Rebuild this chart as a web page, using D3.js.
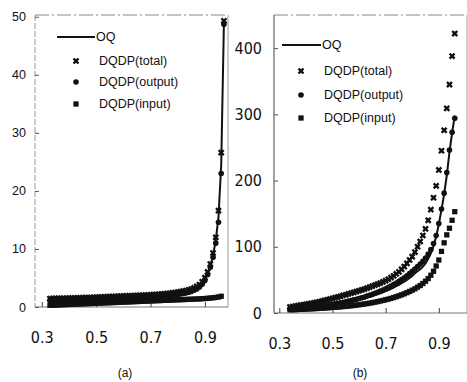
<!DOCTYPE html>
<html><head><meta charset="utf-8">
<script src="https://cdn.jsdelivr.net/npm/d3@7"></script>
<style>body{margin:0;background:#fff}svg{display:block}</style></head>
<body><svg id="c" width="467" height="382"></svg>
<script>
// ---------- data : panel (a) ----------
const xA = [0.33,0.34,0.35,0.36,0.37,0.38,0.39,0.40,0.41,0.42,
            0.43,0.44,0.45,0.46,0.47,0.48,0.49,0.50,0.51,0.52,
            0.53,0.54,0.55,0.56,0.57,0.58,0.59,0.60,0.61,0.62,
            0.63,0.64,0.65,0.66,0.67,0.68,0.69,0.70,0.71,0.72,
            0.73,0.74,0.75,0.76,0.77,0.78,0.79,0.80,0.81,0.82,
            0.83,0.84,0.85,0.86,0.87,0.88,0.89,0.90,0.91,0.92,
            0.93,0.94,0.95,0.96,0.97];
const oqA = [1.25,1.26,1.27,1.28,1.29,1.30,1.31,1.32,1.33,1.34,
             1.36,1.37,1.39,1.40,1.42,1.43,1.45,1.47,1.49,1.51,
             1.53,1.55,1.57,1.59,1.61,1.63,1.65,1.67,1.69,1.71,
             1.73,1.75,1.77,1.79,1.81,1.83,1.85,1.88,1.91,1.94,
             1.97,2.00,2.04,2.08,2.13,2.18,2.24,2.31,2.39,2.48,
             2.58,2.70,2.85,3.05,3.30,3.62,4.10,4.80,5.80,7.10,
             8.90,11.5,15.5,24.5,49.0];
const totalA = [1.45,1.46,1.47,1.48,1.49,1.50,1.51,1.52,1.53,1.55,
                1.56,1.58,1.59,1.61,1.62,1.64,1.66,1.68,1.70,1.72,
                1.74,1.76,1.78,1.80,1.82,1.84,1.86,1.88,1.90,1.92,
                1.94,1.96,1.98,2.00,2.02,2.04,2.06,2.09,2.12,2.15,
                2.19,2.23,2.27,2.32,2.37,2.43,2.49,2.56,2.64,2.73,
                2.83,2.95,3.10,3.30,3.55,3.88,4.35,5.05,6.05,7.40,
                9.30,12.0,16.6,26.6,49.3];
const outputA = [1.10,1.11,1.12,1.13,1.14,1.15,1.16,1.17,1.18,1.19,
                 1.20,1.22,1.23,1.25,1.26,1.28,1.30,1.32,1.33,1.35,
                 1.37,1.39,1.41,1.43,1.45,1.47,1.49,1.51,1.53,1.55,
                 1.57,1.59,1.61,1.63,1.65,1.67,1.69,1.72,1.75,1.78,
                 1.81,1.84,1.88,1.92,1.97,2.02,2.08,2.15,2.23,2.32,
                 2.42,2.54,2.69,2.88,3.12,3.44,3.90,4.58,5.55,6.85,
                 8.55,11.0,14.6,23.0,48.7];
const inputA = [0.30,0.32,0.34,0.36,0.38,0.40,0.42,0.44,0.46,0.48,
                0.50,0.52,0.54,0.56,0.58,0.60,0.62,0.64,0.66,0.68,
                0.70,0.72,0.74,0.76,0.78,0.80,0.82,0.84,0.86,0.88,
                0.90,0.92,0.94,0.96,0.98,1.00,1.02,1.04,1.06,1.08,
                1.10,1.12,1.14,1.16,1.18,1.20,1.22,1.24,1.26,1.28,
                1.30,1.32,1.34,1.36,1.38,1.40,1.43,1.46,1.50,1.54,
                1.59,1.65,1.72,1.85];
const yTicksA = [0,10,20,30,40,50];

// ---------- data : panel (b) ----------
const xB = [0.34,0.35,0.36,0.37,0.38,0.39,0.40,0.41,0.42,0.43,
            0.44,0.45,0.46,0.47,0.48,0.49,0.50,0.51,0.52,0.53,
            0.54,0.55,0.56,0.57,0.58,0.59,0.60,0.61,0.62,0.63,
            0.64,0.65,0.66,0.67,0.68,0.69,0.70,0.71,0.72,0.73,
            0.74,0.75,0.76,0.77,0.78,0.79,0.80,0.81,0.82,0.83,
            0.84,0.85,0.86,0.87,0.88,0.89,0.90,0.91,0.92,0.93,
            0.94,0.95,0.96];
const oqB = [6.0,6.2,6.4,6.6,6.9,7.2,7.5,7.8,8.1,8.5,
             8.9,9.3,9.7,10.2,10.7,11.2,11.8,12.4,13.0,13.7,
             14.4,15.2,16.0,16.9,17.8,18.8,19.8,20.9,22.0,23.2,
             24.4,25.7,27.0,28.4,29.9,31.4,33.0,34.7,36.5,38.5,
             40.5,42.5,45.0,47.5,50.0,53.0,56.0,60.0,63.0,66.0,
             70,75,82,90,101,115,134,156,179,208,
             243,272,298];
const totalB = [9.0,9.7,10.4,11.1,11.8,12.5,13.2,13.9,14.6,15.3,
                16.0,17.0,18.0,19.0,20.0,21.0,22.0,23.1,24.2,25.3,
                26.5,27.6,28.8,30.0,31.2,32.4,33.6,34.8,36.0,37.5,
                39.0,40.5,42.0,43.5,45.0,47.0,49.0,51.0,53.5,56.0,
                59,62,66,70,75,80,85,92,100,108,
                117,127,140,156,174,192,216,245,276,309,
                345,388,422];
const outputB = [6.5,6.8,7.1,7.4,7.7,8.0,8.4,8.8,9.2,9.6,
                 10.0,10.5,11.0,11.5,12.1,12.7,13.3,14.0,14.7,15.4,
                 16.2,17.0,17.9,18.8,19.8,20.8,21.9,23.0,24.2,25.5,
                 26.8,28.2,29.7,31.3,33.0,34.8,36.7,38.7,40.8,43.0,
                 45.3,47.8,50.5,53.3,56.3,59.5,63.0,66.5,70.0,74.0,
                 78,83,89,96,105,117,135,157,181,212,
                 246,273,294];
const inputB = [4.8,5.0,5.1,5.3,5.5,5.7,5.9,6.1,6.3,6.5,
                6.7,7.0,7.2,7.5,7.8,8.1,8.4,8.7,9.0,9.3,
                9.7,10.1,10.5,10.9,11.4,11.9,12.4,13.0,13.6,14.2,
                14.9,15.6,16.4,17.2,18.1,19.0,20.0,21.0,22.1,23.3,
                24.6,26.0,27.4,29.0,30.7,32.5,34.5,36.5,39.0,41.5,
                44.5,48,52,57,63,71,80,93,106,118,
                128,140,153];
const yTicksB = [0,100,200,300,400];

const xTicks = [0.3,0.5,0.7,0.9];
const xTickLabels = ["0.3","0.5","0.7","0.9"];
const legendNames = ["OQ","DQDP(total)","DQDP(output)","DQDP(input)"];
const panelLabels = ["(a)","(b)"];

// ---------- drawing ----------
const svg = d3.select("#c");
const INK = "#111";
const narrow = "'Liberation Sans Narrow','DejaVu Sans Condensed','Liberation Sans',Arial,sans-serif";
const regular = "'Liberation Sans',Arial,sans-serif";

const symTotal = d3.symbol().type(d3.symbolCross).size(28);
const symInput = d3.symbol().type(d3.symbolSquare).size(28);

function drawMarkers(g, type, pts) {
  if (type === "total") {
    g.selectAll(null).data(pts).join("path")
      .attr("d", symTotal())
      .attr("transform", d => `translate(${d[0]},${d[1]}) rotate(45)`)
      .attr("fill", INK);
  } else if (type === "output") {
    g.selectAll(null).data(pts).join("circle")
      .attr("cx", d => d[0]).attr("cy", d => d[1]).attr("r", 2.8)
      .attr("fill", INK);
  } else {
    g.selectAll(null).data(pts).join("path")
      .attr("d", symInput())
      .attr("transform", d => `translate(${d[0]},${d[1]})`)
      .attr("fill", INK);
  }
}

function panel(cfg) {
  const x = d3.scaleLinear().domain(cfg.xDom).range([cfg.left, cfg.right]);
  const y = d3.scaleLinear().domain(cfg.yDom).range([cfg.bottom, cfg.top]);
  const g = svg.append("g");

  // frame
  g.append("line").attr("x1", cfg.left).attr("x2", cfg.right).attr("y1", cfg.top).attr("y2", cfg.top)
    .attr("stroke", "#888").attr("stroke-width", 1).attr("stroke-dasharray", "14,3,2,3");
  g.append("line").attr("x1", cfg.right).attr("x2", cfg.right).attr("y1", cfg.top).attr("y2", cfg.bottom)
    .attr("stroke", "#999").attr("stroke-width", 1);
  g.append("line").attr("x1", cfg.left).attr("x2", cfg.left).attr("y1", cfg.top).attr("y2", cfg.bottom)
    .attr("stroke", cfg.leftColor).attr("stroke-width", 1).attr("stroke-dasharray", cfg.leftDash);
  g.append("line").attr("x1", cfg.left).attr("x2", cfg.right).attr("y1", cfg.bottom).attr("y2", cfg.bottom)
    .attr("stroke", "#777").attr("stroke-width", 1);

  // axes
  const ya = g.append("g").attr("transform", `translate(${cfg.left},0)`)
    .call(d3.axisLeft(y).tickValues(cfg.yTicks).tickSize(-4).tickPadding(cfg.yPad));
  ya.select(".domain").remove();
  ya.selectAll("line").attr("stroke", "#555");
  ya.selectAll("text").attr("font-family", cfg.yFont).attr("font-size", cfg.yFontSize).attr("fill", INK);

  const xa = g.append("g").attr("transform", `translate(0,${cfg.bottom})`)
    .call(d3.axisBottom(x).tickValues(xTicks).tickFormat((d, i) => xTickLabels[i]).tickSize(-5).tickPadding(25));
  xa.select(".domain").remove();
  xa.selectAll("line").attr("stroke", "#444");
  xa.selectAll("text").attr("font-family", narrow).attr("font-size", 16).attr("fill", INK);

  // OQ line
  const line = d3.line().x(d => x(d[0])).y(d => y(d[1]));
  g.append("path").datum(cfg.xs.map((v, i) => [v, cfg.oq[i]]))
    .attr("d", line).attr("fill", "none").attr("stroke", INK).attr("stroke-width", 2);

  drawMarkers(g.append("g"), "input", cfg.input.map((v, i) => [x(cfg.xs[i]), y(v)]));
  drawMarkers(g.append("g"), "output", cfg.output.map((v, i) => [x(cfg.xs[i]), y(v)]));
  drawMarkers(g.append("g"), "total", cfg.total.map((v, i) => [x(cfg.xs[i]), y(v)]));

  // legend
  const L = cfg.legend;
  g.append("line").attr("x1", L.lx1).attr("x2", L.lx2).attr("y1", L.ys[0]).attr("y2", L.ys[0])
    .attr("stroke", INK).attr("stroke-width", 2);
  g.append("text").attr("x", L.lx2 + 1).attr("y", L.ys[0]).attr("dy", "0.35em")
    .attr("font-family", regular).attr("font-size", 12.5).attr("fill", INK).text(legendNames[0]);
  ["total", "output", "input"].forEach((t, i) => {
    drawMarkers(g.append("g"), t, [[L.mx, L.ys[i + 1]]]);
    g.append("text").attr("x", L.tx).attr("y", L.ys[i + 1]).attr("dy", "0.35em")
      .attr("font-family", regular).attr("font-size", 12.5).attr("fill", INK).text(legendNames[i + 1]);
  });

  g.append("text").attr("x", cfg.labelX).attr("y", 377).attr("text-anchor", "middle")
    .attr("font-family", regular).attr("font-size", 12).attr("fill", INK).text(cfg.label);
}

panel({
  left: 35, right: 228, top: 15, bottom: 307,
  xDom: [0.275, 0.985], yDom: [0, 50.3], yTicks: yTicksA,
  yPad: 9, yFont: regular, yFontSize: 12.5, leftColor: "#999", leftDash: "6,2",
  xs: xA, oq: oqA, total: totalA, output: outputA, input: inputA,
  legend: { lx1: 57, lx2: 95, mx: 76, tx: 99, ys: [37, 61, 82, 104] },
  label: panelLabels[0], labelX: 125
});
panel({
  left: 274, right: 467, top: 15, bottom: 313,
  xDom: [0.28, 1.006], yDom: [0, 450], yTicks: yTicksB,
  yPad: 12, yFont: narrow, yFontSize: 16, leftColor: "#444", leftDash: null,
  xs: xB, oq: oqB, total: totalB, output: outputB, input: inputB,
  legend: { lx1: 282, lx2: 321, mx: 301, tx: 324, ys: [45, 71, 95, 118] },
  label: panelLabels[1], labelX: 360
});
</script>
</body></html>
